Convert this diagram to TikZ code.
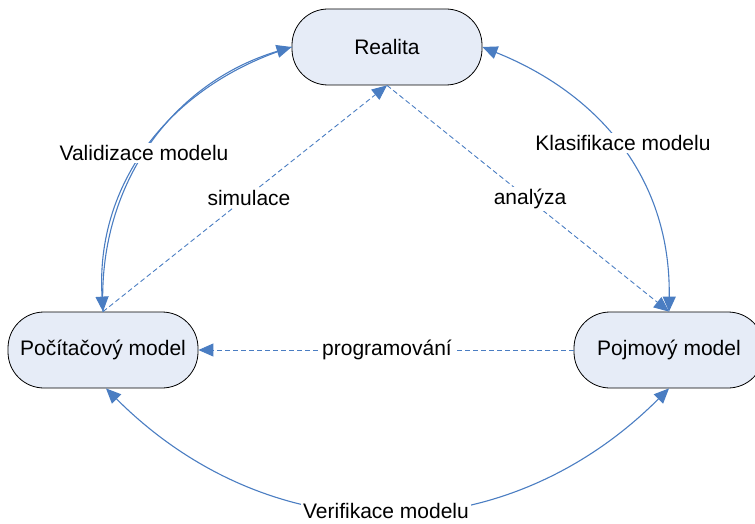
\documentclass[tikz,border=0pt]{standalone}
\usepackage{fontspec}
\setmainfont{Liberation Sans}
\usetikzlibrary{arrows.meta}

\definecolor{boxfill}{RGB}{230,236,247}
\definecolor{linkblue}{RGB}{74,125,194}

\tikzset{
  statebox/.style={draw=black, line width=0.8pt, fill=boxfill,
    rounded corners=36pt, minimum width=190pt, minimum height=76pt,
    font=\fontsize{21}{25}\selectfont},
  tip/.style={-{Triangle[length=15pt,width=13pt]}},
  bitip/.style={{Triangle[length=15pt,width=13pt]}-{Triangle[length=15pt,width=13pt]}},
  solidlink/.style={draw=linkblue, line width=1.1pt},
  dashlink/.style={draw=linkblue, line width=0.9pt, dash pattern=on 5pt off 3pt},
  lbl/.style={fill=white, inner sep=2pt, font=\fontsize{21}{25}\selectfont}
}

\begin{document}
\begin{tikzpicture}[x=1pt, y=-1pt]
  \useasboundingbox (0,0) rectangle (755,524);

  % the three states
  \node[statebox] (real) at (387,47)  {Realita};
  \node[statebox] (pc)   at (103,350) {Počítačový model};
  \node[statebox] (poj)  at (669,350) {Pojmový model};

  % dashed transitions
  \draw[dashlink, tip] (pc.north) -- (real.south);
  \draw[dashlink, tip] (real.south) -- (poj.north);
  \draw[dashlink, tip] (poj.west) -- (pc.east);

  % validation: two strokes, one in each direction
  \draw[solidlink, tip]
    (real.west) .. controls +(-122,38) and +(-8,-128) .. (pc.north);
  \draw[solidlink, tip]
    (pc.north) .. controls +(-6,-126) and +(-120,36) .. (real.west);

  % classification
  \draw[solidlink, bitip]
    (real.east) .. controls +(117,47) and +(2,-133) .. (poj.north);

  % verification
  \draw[solidlink, bitip]
    ([xshift=3pt]pc.south) .. controls +(165,165) and +(-165,165) .. (poj.south);

  % labels
  \node[lbl] (lval) at (144,153) {Validizace modelu};
  \node[lbl] (lkla) at (623,143) {Klasifikace modelu};
  \node[lbl] (lsim) at (249,198) {simulace};
  \node[lbl] (lana) at (530,199) {analýza};
  \node[lbl] (lprg) at (387,350) {programování};
  \node[lbl] (lver) at (386,511) {Verifikace modelu};
\end{tikzpicture}
\end{document}
